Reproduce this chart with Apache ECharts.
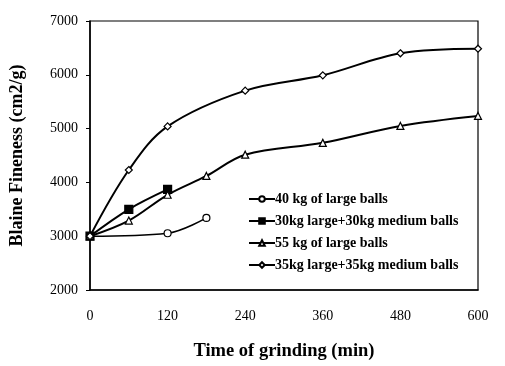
<!DOCTYPE html>
<html><head><meta charset="utf-8">
<script src="https://cdn.jsdelivr.net/npm/echarts@6/dist/echarts.min.js"></script>
<style>html,body{margin:0;padding:0;background:#fff}#c{width:505px;height:366px}</style>
</head><body><div id="c"></div>
<script>
const seriesNames = ["40 kg of large balls","30kg large+30kg medium balls","55 kg of large balls","35kg large+35kg medium balls"];
const time1 = [0,120,180];
const fine1 = [3000,3055,3340];
const time2 = [0,60,120];
const fine2 = [3000,3500,3870];
const time3 = [0,60,120,180,240,360,480,600];
const fine3 = [3000,3290,3770,4120,4515,4735,5050,5235];
const time4 = [0,60,120,240,360,480,600];
const fine4 = [3000,4230,5040,5705,5990,6400,6485];
const xTicks = [0,120,240,360,480,600];
const yTicks = [2000,3000,4000,5000,6000,7000];

const pairs = (xs, ys) => xs.map((x,i)=>[x,ys[i]]);
const font = '"Liberation Serif","DejaVu Serif",serif';
function mk(name, data, symbol, size, fill, lw){
  return {name, type:'line', data, symbol, symbolSize:size, smooth:0.35, showSymbol:true,
    lineStyle:{color:'#000', width:lw}, itemStyle:{color:fill, borderColor:'#000', borderWidth:1.2},
    emphasis:{disabled:true}, z: 3};
}
const chart = echarts.init(document.getElementById('c'));
chart.setOption({
  animation:false,
  backgroundColor:'#fff',
  grid:{left:87, right:27, top:21, bottom:73, show:true, borderColor:'#000', borderWidth:1.2, backgroundColor:'transparent'},
  xAxis:{type:'value', min:xTicks[0], max:xTicks[xTicks.length-1], interval:120,
    name:'Time of grinding (min)', nameLocation:'middle', nameGap:52,
    nameTextStyle:{fontFamily:font, fontWeight:'bold', fontSize:18.5, color:'#000'},
    axisLine:{lineStyle:{color:'#000', width:1.5}}, axisTick:{show:false},
    axisLabel:{fontFamily:font, fontSize:14, color:'#000', margin:19, formatter:v=>String(v)}, splitLine:{show:false}},
  yAxis:{type:'value', min:yTicks[0], max:yTicks[yTicks.length-1], interval:1000,
    name:'Blaine Fineness (cm2/g)', nameLocation:'middle', nameGap:64,
    nameTextStyle:{fontFamily:font, fontWeight:'bold', fontSize:18, color:'#000'},
    axisLine:{show:true, lineStyle:{color:'#000', width:1.5}},
    axisTick:{show:true, length:4, lineStyle:{color:'#000'}},
    axisLabel:{fontFamily:font, fontSize:14, color:'#000', margin:12, formatter:v=>String(v)}, splitLine:{show:false}},
  legend:{orient:'vertical', left:243, top:187, itemGap:8, itemWidth:26, itemHeight:7,
    textStyle:{fontFamily:font, fontWeight:'bold', fontSize:14, color:'#000', padding:[0,0,0,-5]},
    data:seriesNames},
  series:[
    mk(seriesNames[0], pairs(time1,fine1), 'circle', 7, '#fff', 1.6),
    mk(seriesNames[1], pairs(time2,fine2), 'rect', 8, '#000', 2),
    mk(seriesNames[2], pairs(time3,fine3), 'triangle', 7, '#fff', 2),
    mk(seriesNames[3], pairs(time4,fine4), 'diamond', 7, '#fff', 2)
  ]
});
</script></body></html>
